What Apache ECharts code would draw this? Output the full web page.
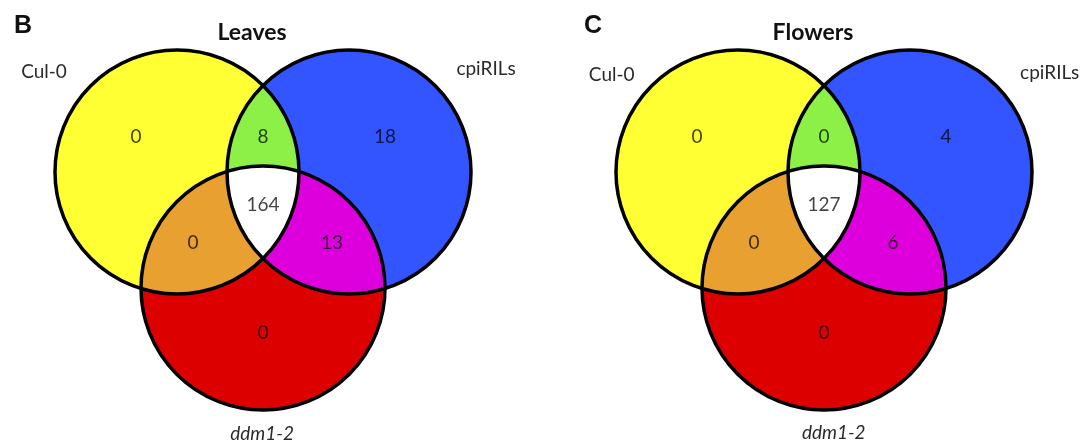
<!DOCTYPE html>
<html>
<head>
<meta charset="utf-8">
<title>Venn diagrams – Leaves and Flowers</title>
<script src="https://cdn.jsdelivr.net/npm/echarts@6/dist/echarts.min.js"></script>
<style>
  html, body { margin: 0; padding: 0; background: #ffffff; }
  #chart { width: 1084px; height: 446px; }
</style>
</head>
<body>
<div id="chart"></div>
<script>
// ---- data ----
const setNames = ['Cul-0', 'cpiRILs', 'ddm1-2'];
const regionNames = [
  'Cul-0 only', 'cpiRILs only', 'ddm1-2 only',
  'Cul-0 ∩ cpiRILs', 'Cul-0 ∩ ddm1-2', 'cpiRILs ∩ ddm1-2',
  'Cul-0 ∩ cpiRILs ∩ ddm1-2'
];
const panelLetters = ['B', 'C'];
const panelTitles = ['Leaves', 'Flowers'];
const leavesCounts = [0, 18, 0, 8, 0, 13, 164];
const flowersCounts = [0, 4, 0, 0, 0, 6, 127];

// ---- layout (diagram units: circle radius = 1) ----
const RADIUS = 1;
const circleCenters = [[-0.705, 0.4], [0.705, 0.4], [0, -0.551]];
const regionSets = [[0], [1], [2], [0, 1], [0, 2], [1, 2], [0, 1, 2]];
const regionColors = ['#FFFF33', '#3355FF', '#DD0000', '#8CF046', '#E8A030', '#DD00DD', '#FFFFFF'];
const countAnchors = [[-1.04, 0.687], [1.0, 0.687], [0, -0.92], [0, 0.687], [-0.574, -0.18], [0.566, -0.18], [0, 0.13]];
const setLabelAnchors = [
  [[-1.795, 1.22], [1.828, 1.244], [-0.008, -1.748]],
  [[-1.74, 1.2], [1.85, 1.21], [0.08, -1.74]]
];
const SCALE = 122;                 // pixels per diagram unit
const origins = [[263, 220.8], [824, 220.8]];
const X_MIN = -2, X_MAX = 2, Y_MIN = -1.8, Y_MAX = 1.7;
const FONT = 'Lato, "Open Sans", sans-serif';

// ---- geometry helpers (pixel space) ----
function intersections(a, b, r) {
  const dx = b[0] - a[0], dy = b[1] - a[1];
  const d = Math.hypot(dx, dy);
  const h = Math.sqrt(Math.max(r * r - (d / 2) * (d / 2), 0));
  const mx = (a[0] + b[0]) / 2, my = (a[1] + b[1]) / 2;
  const ux = -dy / d, uy = dx / d;
  return [[mx + ux * h, my + uy * h], [mx - ux * h, my - uy * h]];
}
function sweep(p, q, c) {
  const cross = (q[0] - p[0]) * (c[1] - p[1]) - (q[1] - p[1]) * (c[0] - p[0]);
  return cross > 0 ? 1 : 0;
}
function arcTo(p, q, c, r) {
  return 'A ' + r + ' ' + r + ' 0 0 ' + sweep(p, q, c) + ' ' + q[0] + ' ' + q[1];
}
function lensPath(a, b, r) {
  const [p, q] = intersections(a, b, r);
  return 'M ' + p[0] + ' ' + p[1] + ' ' + arcTo(p, q, a, r) + ' ' + arcTo(q, p, b, r) + ' Z';
}
function innerPoint(a, b, other, r) {
  const pts = intersections(a, b, r);
  const d0 = Math.hypot(pts[0][0] - other[0], pts[0][1] - other[1]);
  const d1 = Math.hypot(pts[1][0] - other[0], pts[1][1] - other[1]);
  return d0 < d1 ? pts[0] : pts[1];
}
function triplePath(c, r) {
  const vAB = innerPoint(c[0], c[1], c[2], r);
  const vBC = innerPoint(c[1], c[2], c[0], r);
  const vCA = innerPoint(c[2], c[0], c[1], r);
  return 'M ' + vAB[0] + ' ' + vAB[1] + ' ' +
    arcTo(vAB, vBC, c[1], r) + ' ' +
    arcTo(vBC, vCA, c[2], r) + ' ' +
    arcTo(vCA, vAB, c[0], r) + ' Z';
}

function renderRegion(params, api) {
  const i = params.dataIndex;
  const c = circleCenters.map(p => api.coord(p));
  const r = api.size([RADIUS, 0])[0];
  const sets = regionSets[i];
  let shape;
  if (sets.length === 1) {
    shape = { type: 'circle', z2: i, shape: { cx: c[sets[0]][0], cy: c[sets[0]][1], r: r },
      style: { fill: regionColors[i] } };
  } else if (sets.length === 2) {
    shape = { type: 'path', z2: i, shape: { pathData: lensPath(c[sets[0]], c[sets[1]], r) },
      style: { fill: regionColors[i] } };
  } else {
    shape = { type: 'path', z2: i, shape: { pathData: triplePath(c, r) },
      style: { fill: regionColors[i] } };
  }
  const pos = api.coord(countAnchors[i]);
  return {
    type: 'group',
    children: [
      shape,
      { type: 'text', z2: 100, x: pos[0], y: pos[1],
        style: { text: String(api.value(1)), fill: 'rgba(0,0,0,0.74)', font: '19px ' + FONT,
          align: 'center', verticalAlign: 'middle' } }
    ]
  };
}

function makeOutlineRenderer(panel) {
  return function (params, api) {
    const i = params.dataIndex;
    const c = api.coord(circleCenters[i]);
    const r = api.size([RADIUS, 0])[0];
    const lp = api.coord(setLabelAnchors[panel][i]);
    return {
      type: 'group',
      children: [
        { type: 'circle', shape: { cx: c[0], cy: c[1], r: r },
          style: { fill: 'none', stroke: '#000000', lineWidth: 3.5 } },
        { type: 'text', x: lp[0], y: lp[1],
          style: { text: setNames[i], fill: '#2a2a2a',
            font: (i === 2 ? 'italic ' : '') + '19px ' + FONT,
            align: 'center', verticalAlign: 'middle' } }
      ]
    };
  };
}

const panelCounts = [leavesCounts, flowersCounts];
const grids = origins.map(o => ({
  left: o[0] + X_MIN * SCALE,
  top: o[1] - Y_MAX * SCALE,
  width: (X_MAX - X_MIN) * SCALE,
  height: (Y_MAX - Y_MIN) * SCALE,
  containLabel: false
}));
const hiddenAxis = { show: false, splitLine: { show: false } };
const xAxes = origins.map((o, k) => Object.assign({ type: 'value', gridIndex: k, min: X_MIN, max: X_MAX }, hiddenAxis));
const yAxes = origins.map((o, k) => Object.assign({ type: 'value', gridIndex: k, min: Y_MIN, max: Y_MAX }, hiddenAxis));

const series = [];
panelCounts.forEach((counts, k) => {
  series.push({
    type: 'custom', name: panelTitles[k], xAxisIndex: k, yAxisIndex: k, z: 2,
    dimensions: ['region', 'count'],
    encode: { x: 0, y: 1 },
    data: counts.map((v, i) => ({ name: regionNames[i], value: [i, v] })),
    renderItem: renderRegion, silent: true, animation: false
  });
  series.push({
    type: 'custom', name: panelTitles[k] + ' sets', xAxisIndex: k, yAxisIndex: k, z: 3,
    data: setNames.map((n, i) => ({ name: n, value: [i, 0] })),
    renderItem: makeOutlineRenderer(k), silent: true, animation: false
  });
});

const titleCenters = [[252, 33], [813, 33]];
const letterPos = [[14, 26], [584, 26]];
const graphic = [];
panelTitles.forEach((t, k) => {
  graphic.push({ type: 'text', x: titleCenters[k][0], y: titleCenters[k][1],
    style: { text: t, fill: '#111111', font: 'bold 23px ' + FONT, align: 'center', verticalAlign: 'middle' } });
  graphic.push({ type: 'text', x: letterPos[k][0], y: letterPos[k][1],
    style: { text: panelLetters[k], fill: '#111111', font: 'bold 25px "Liberation Sans", Arial, sans-serif',
      align: 'left', verticalAlign: 'middle' } });
});

const chart = echarts.init(document.getElementById('chart'), null, { renderer: 'canvas' });
chart.setOption({
  backgroundColor: '#ffffff',
  animation: false,
  grid: grids,
  xAxis: xAxes,
  yAxis: yAxes,
  graphic: graphic,
  series: series
});
</script>
</body>
</html>
